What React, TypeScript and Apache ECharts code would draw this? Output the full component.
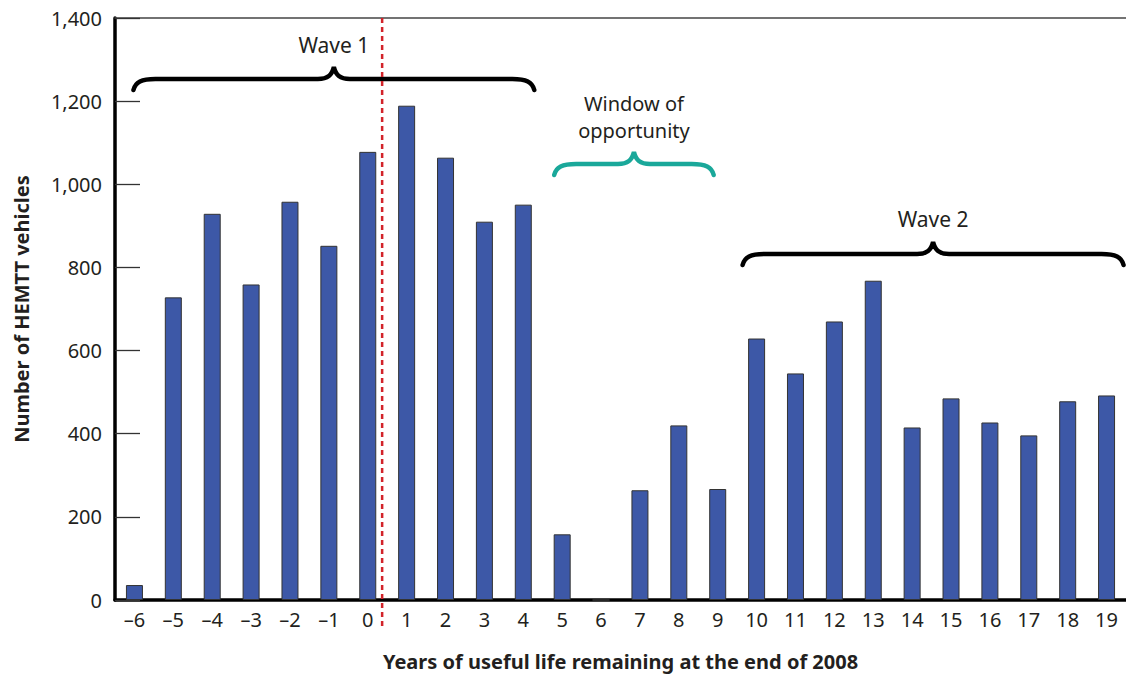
import React, { useEffect, useRef } from "react";
import * as echarts from "echarts";

const categories = ["–6", "–5", "–4", "–3", "–2", "–1", "0", "1", "2", "3", "4", "5", "6", "7", "8", "9", "10", "11", "12", "13", "14", "15", "16", "17", "18", "19"];
const vehicles = [36, 728, 929, 759, 958, 852, 1078, 1189, 1064, 910, 951, 158, 0, 264, 420, 267, 629, 545, 670, 768, 415, 485, 427, 396, 478, 492];
const yTicks = [0, 200, 400, 600, 800, 1000, 1200, 1400];

const FONT = "'Noto Sans', 'Open Sans', sans-serif";

function braceD(w: number, h: number, m: number): string {
  const c = w / 2;
  return `M0 ${h} C2 ${m + 3} 8 ${m} 22 ${m} L${c - 16} ${m} C${c - 6} ${m} ${c - 2} ${m - 4} ${c} 0 C${c + 2} ${m - 4} ${c + 6} ${m} ${c + 16} ${m} L${w - 22} ${m} C${w - 8} ${m} ${w - 2} ${m + 3} ${w} ${h}`;
}

export default function App() {
  const ref = useRef<HTMLDivElement>(null);
  useEffect(() => {
    document.body.style.margin = "0";
    if (!ref.current) return;
    const chart = echarts.init(ref.current, null, { renderer: "svg" });
    chart.setOption({
      animation: false,
      backgroundColor: "#fff",
      grid: { left: 115, right: 0, top: 18, bottom: 75, containLabel: false, outerBoundsMode: "none" },
      xAxis: [
        {
          type: "category",
          data: categories,
          boundaryGap: true,
          axisLine: { lineStyle: { color: "#000", width: 3.5 } },
          axisTick: { show: false },
          axisLabel: { color: "#231f20", fontSize: 20, fontFamily: FONT, margin: 9 },
          name: "Years of useful life remaining at the end of 2008",
          nameLocation: "middle",
          nameGap: 51,
          nameTextStyle: { color: "#231f20", fontSize: 20, fontWeight: "bold", fontFamily: FONT },
        },
        {
          type: "category",
          data: categories,
          position: "top",
          axisLine: { lineStyle: { color: "#444", width: 1.5 } },
          axisTick: { show: false },
          axisLabel: { show: false },
        },
      ],
      yAxis: {
        type: "value",
        min: yTicks[0],
        max: yTicks[yTicks.length - 1],
        interval: 200,
        axisLine: { show: true, lineStyle: { color: "#000", width: 3.5 } },
        axisTick: { show: true, inside: true, length: 25, lineStyle: { color: "#333", width: 1.3 } },
        splitLine: { show: false },
        axisLabel: {
          color: "#231f20",
          fontSize: 20,
          fontFamily: FONT,
          margin: 13,
          formatter: (v: number) => v.toLocaleString("en-US"),
        },
        name: "Number of HEMTT vehicles",
        nameLocation: "middle",
        nameGap: 84,
        nameRotate: 90,
        nameTextStyle: { color: "#231f20", fontSize: 20, fontWeight: "bold", fontFamily: FONT },
      },
      series: [
        {
          type: "bar",
          data: vehicles,
          barWidth: 17,
          itemStyle: { color: "#3d58a7", borderColor: "#333", borderWidth: 1 },
        },
      ],
    });

    const cx = (c: string) => chart.convertToPixel({ xAxisIndex: 0 }, c) as number;
    const cy = (v: number) => chart.convertToPixel({ yAxisIndex: 0 }, v) as number;
    const band = (cx("19") - cx("–6")) / 25;
    const yTop = cy(1400);
    const yBottom = cy(0);

    const braces = [
      { name: "brace_w1", x0: cx("–6") - 1, x1: cx("4") + 11, y: 67, color: "#000" },
      { name: "brace_win", x0: cx("5") - 8, x1: cx("9") - 4, y: 152, color: "#1aa89a" },
      { name: "brace_w2", x0: cx("10") - 14, x1: cx("19") + 17, y: 242, color: "#000" },
    ];
    const braceEls = braces.map((b) => {
      const w = b.x1 - b.x0;
      echarts.graphic.registerShape(b.name, echarts.graphic.extendPath(braceD(w, 23, 12), {}));
      return {
        type: b.name,
        x: b.x0,
        y: b.y,
        silent: true,
        style: { stroke: b.color, lineWidth: 4.5, fill: "transparent", lineCap: "round" },
      };
    });

    const redX = cx("0") + band * 0.37;
    const textStyle = { fill: "#231f20", fontSize: 21, fontFamily: FONT, align: "center", verticalAlign: "middle" };
    const winX = (braces[1].x0 + braces[1].x1) / 2;

    chart.setOption({
      graphic: [
        {
          type: "line",
          silent: true,
          shape: { x1: redX, y1: yTop, x2: redX, y2: yBottom + 28 },
          style: { stroke: "#d2232a", lineWidth: 2.5, lineDash: [5, 4] },
          z: 10,
        },
        ...braceEls,
        { type: "text", x: (braces[0].x0 + braces[0].x1) / 2, y: 45, style: { ...textStyle, text: "Wave 1" } },
        { type: "text", x: winX, y: 103, style: { ...textStyle, fontSize: 20, text: "Window of" } },
        { type: "text", x: winX, y: 130, style: { ...textStyle, fontSize: 20, text: "opportunity" } },
        { type: "text", x: (braces[2].x0 + braces[2].x1) / 2, y: 219, style: { ...textStyle, text: "Wave 2" } },
      ],
    });

    return () => chart.dispose();
  }, []);
  return <div ref={ref} style={{ width: 1126, height: 675 }} />;
}
